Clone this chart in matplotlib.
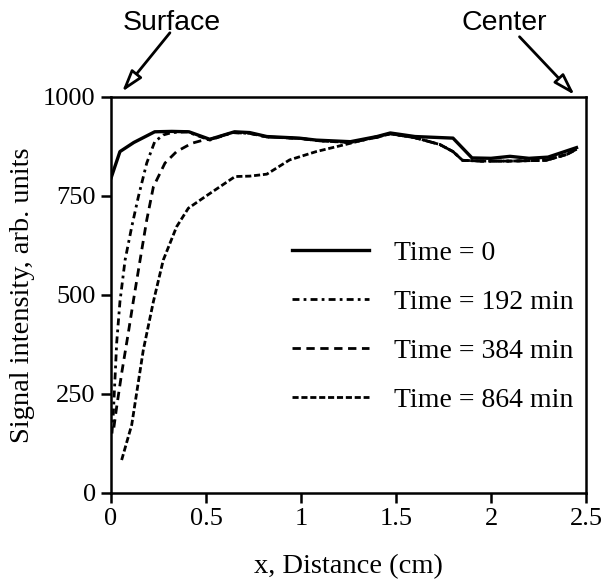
import matplotlib
matplotlib.use("Agg")
import matplotlib.pyplot as plt

# perfiles de intensidad de señal
x_t0 = [0.0, 0.047, 0.12, 0.23, 0.32, 0.41, 0.52, 0.65, 0.73, 0.82, 0.99, 1.08, 1.26, 1.40,
        1.47, 1.6, 1.8, 1.9, 2.0, 2.1, 2.2, 2.3, 2.45]
y_t0 = [795, 862, 885, 912, 913, 912, 893, 912, 910, 900, 896, 891, 887, 900,
        909, 900, 896, 846, 845, 850, 845, 848, 872]

x_t192 = [0.005, 0.012, 0.03, 0.047, 0.074, 0.109, 0.144, 0.188, 0.23, 0.275, 0.32, 0.40,
          0.52, 0.64, 0.73, 0.82, 1.0, 1.1, 1.26, 1.4, 1.47, 1.6, 1.73, 1.8, 1.85, 1.95,
          2.1, 2.29, 2.4, 2.45]
y_t192 = [150, 200, 380, 483, 588, 672, 748, 833, 887, 904, 910, 912,
          891, 910, 908, 899, 895, 889, 885, 898, 907, 897, 880, 862, 840, 838,
          838, 840, 855, 868]

x_t384 = [0.015, 0.03, 0.056, 0.091, 0.117, 0.153, 0.188, 0.223, 0.284, 0.345, 0.425, 0.486,
          0.52, 0.64, 0.73, 0.82, 1.0, 1.1, 1.26, 1.4, 1.47, 1.6, 1.73, 1.8, 1.85, 1.95,
          2.1, 2.29, 2.4, 2.45]
y_t384 = [165, 218, 302, 404, 483, 588, 689, 773, 833, 862, 883, 891,
          893, 910, 908, 899, 895, 889, 885, 898, 907, 897, 880, 862, 840, 838,
          838, 840, 855, 868]

x_t864 = [0.056, 0.109, 0.17, 0.223, 0.275, 0.345, 0.407, 0.495, 0.653, 0.73, 0.82, 0.94,
          1.08, 1.26, 1.40, 1.47, 1.6, 1.73, 1.8, 1.85, 1.95, 2.1, 2.29, 2.4, 2.45]
y_t864 = [83, 172, 361, 483, 588, 672, 719, 748, 799, 800, 805, 841,
          862, 883, 900, 907, 897, 880, 862, 840, 838, 838, 840, 855, 868]

etiquetas = ["Time = 0", "Time = 192 min", "Time = 384 min", "Time = 864 min"]
xticks = [0, 0.5, 1, 1.5, 2, 2.5]
xtick_labels = ["0", "0.5", "1", "1.5", "2", "2.5"]
yticks = [0, 250, 500, 750, 1000]

serif = "Liberation Serif"
sans = "Liberation Sans"

fig = plt.figure(figsize=(6.04, 5.84), dpi=100)
ax = fig.add_axes([0.1838, 0.156, 0.7864, 0.678])

ax.plot(x_t0, y_t0, color="black", lw=2.4, ls="-", label=etiquetas[0])
ax.plot(x_t192, y_t192, color="black", lw=2.0, ls=(0, (2.5, 1.5, 1, 1.5)), label=etiquetas[1])
ax.plot(x_t384, y_t384, color="black", lw=2.0, ls=(0, (3, 2)), label=etiquetas[2])
ax.plot(x_t864, y_t864, color="black", lw=2.0, ls=(0, (2.2, 1.0)), label=etiquetas[3])

ax.set_xlim(0, 2.5)
ax.set_ylim(0, 1000)
ax.set_xticks(xticks)
ax.set_xticklabels(xtick_labels)
ax.set_yticks(yticks)
for s in ax.spines.values():
    s.set_linewidth(1.8)
ax.tick_params(direction="out", length=7, width=1.8, labelsize=19, pad=4)
for lab in ax.get_xticklabels() + ax.get_yticklabels():
    lab.set_fontfamily(serif)

ax.set_xlabel("x, Distance (cm)", fontsize=20.5, family=serif, labelpad=17)
ax.set_ylabel("Signal intensity, arb. units", fontsize=20.5, family=serif, labelpad=6)

leg = ax.legend(loc="center left", bbox_to_anchor=(0.382, 0.42), frameon=False,
                prop={"family": serif, "size": 20}, handlelength=2.75,
                handletextpad=0.9, labelspacing=0.85, borderpad=0, borderaxespad=0)

# flechas "Surface" y "Center"
flecha = dict(arrowstyle="-|>,head_length=1.3,head_width=0.4", fc="white", ec="black", lw=2,
              shrinkA=0, shrinkB=0)
ax.annotate("", xy=(0.058, 1013), xytext=(0.31, 1162), arrowprops=flecha, annotation_clip=False)
ax.annotate("", xy=(2.44, 1005), xytext=(2.15, 1152), arrowprops=flecha, annotation_clip=False)
ax.text(0.32, 1188, "Surface", fontsize=20.5, family=sans, ha="center", va="center", clip_on=False)
ax.text(2.07, 1188, "Center", fontsize=20.5, family=sans, ha="center", va="center", clip_on=False)

fig.savefig("out.png", dpi=100)
